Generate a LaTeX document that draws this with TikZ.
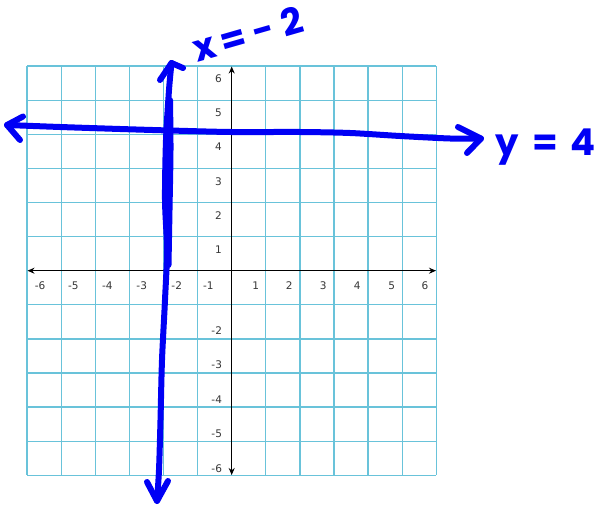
\documentclass[tikz,border=0pt]{standalone}
\usepackage{fontspec}
\setmainfont{DejaVu Sans}
\newfontfamily\handfont{Poppins}
\usetikzlibrary{arrows.meta}
\definecolor{gridblue}{RGB}{105,195,218}
\definecolor{pen}{RGB}{0,0,245}
\definecolor{ticktext}{RGB}{55,55,55}
\begin{document}
\begin{tikzpicture}[x=1pt,y=-1pt,
  gridline/.style={gridblue,line width=1.3pt},
  axisline/.style={black,line width=1.3pt,{Stealth[length=7pt,width=6pt]}-{Stealth[length=7pt,width=6pt]}},
  tick/.style={font=\fontsize{10.5}{12}\selectfont,text=ticktext,inner sep=0pt},
  penstroke/.style={pen,line width=6pt,line cap=round,line join=round},
  handtext/.style={pen,font=\handfont\bfseries\fontsize{37}{40}\selectfont,inner sep=0pt}]
\useasboundingbox (0,0) rectangle (599,505);
\fill[white] (0,0) rectangle (599,505);
% grid
\foreach \i in {-6,...,6} {
  \draw[gridline] ({231.7+34.1*\i},66.1) -- ({231.7+34.1*\i},475.3);
  \draw[gridline] (27.1,{270.7+34.1*\i}) -- (436.3,{270.7+34.1*\i});
}
% axes
\coordinate (xl) at (27.5,270.7);
\coordinate (xr) at (436,270.7);
\coordinate (yt) at (231.7,66.5);
\coordinate (yb) at (231.7,475);
\draw[axisline] (xl) -- (xr);
\draw[axisline] (yb) -- (yt);
% x tick labels
\foreach \v/\px/\nm in {-6/40/xm6,-5/73.3/xm5,-4/107.3/xm4,-3/141.7/xm3,-2/176.7/xm2,-1/208.3/xm1,
  1/255.7/xp1,2/289.3/xp2,3/323.3/xp3,4/357.3/xp4,5/391.7/xp5,6/425/xp6}
  \node[tick] (\nm) at (\px,286) {\v};
% y tick labels
\foreach \v/\py/\nm in {6/79/yp6,5/113/yp5,4/146.7/yp4,3/181.7/yp3,2/216/yp2,1/250/yp1}
  \node[tick] (\nm) at (218.5,\py) {\v};
\foreach \v/\py/\nm in {-2/330.7/ym2,-3/365/ym3,-4/399.3/ym4,-5/433.3/ym5,-6/468.3/ym6}
  \node[tick] (\nm) at (216.7,\py) {\v};
% hand-drawn line x = -2
\coordinate (vtop) at (171.5,63);
\coordinate (vbot) at (157,501);
\draw[penstroke] plot[smooth] coordinates {(171.5,63) (169,90) (166,140) (165,200) (167,250) (165,300) (162,360) (160.5,420) (159,470) (157,501)};
\draw[penstroke] plot[smooth] coordinates {(170,100) (170.5,150) (169.5,210) (168.5,265)};
\draw[penstroke] (160,80) -- (vtop) -- (183,68);
\draw[penstroke] (147,482) -- (vbot) -- (168,481);
% hand-drawn line y = 4
\coordinate (hleft) at (7,125);
\coordinate (hright) at (481,138.5);
\draw[penstroke] plot[smooth] coordinates {(7,125) (60,127) (120,129) (170,130.5) (231,132) (300,132) (350,133) (400,136) (450,138.5) (481,138.5)};
\draw[penstroke] (23,116.5) -- (hleft) -- (20,140);
\draw[penstroke] (458,127) -- (hright) -- (467,153);
% hand-written labels
\node[handtext,anchor=base west,rotate=16] (lblx) at (197,63) {x\hspace{7pt}=\hspace{7pt}-\hspace{9pt}2};
\node[handtext,anchor=base west] (lbly) at (495,156) {y\hspace{14pt}=\hspace{12pt}4};
\end{tikzpicture}
\end{document}
